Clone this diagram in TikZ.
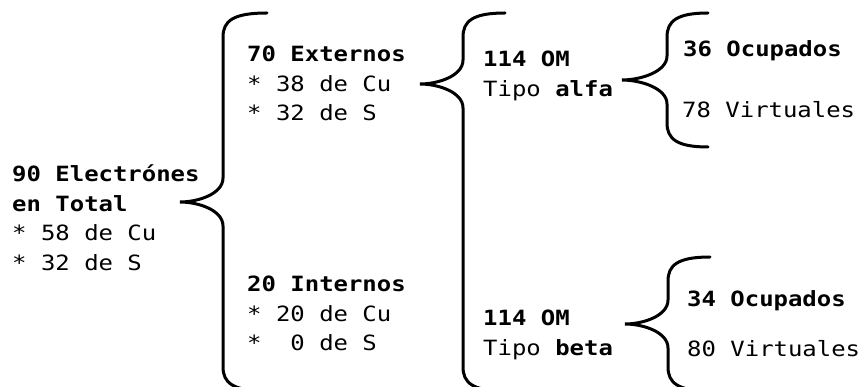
\documentclass[tikz,border=0pt]{standalone}
\usepackage{fontspec}
\setmonofont[FakeStretch=1.14]{DejaVu Sans Mono}

% llave: #1 end x, #2 stem x, #3 top y, #4 tip x, #5 tip y, #6 bottom y
\newcommand{\llave}[6]{%
    \draw[llave] (#1,#3) .. controls (#2+10,#3) and (#2,#3+8) .. (#2,#3+24)
        -- (#2,#5-24) .. controls (#2,#5-8) and (#4+18,#5) .. (#4,#5)
        .. controls (#4+18,#5) and (#2,#5+8) .. (#2,#5+24)
        -- (#2,#6-24) .. controls (#2,#6-8) and (#2+10,#6) .. (#1,#6);
}

\tikzset{
    % base of a block = baseline of its last line
    texto/.style={anchor=base west, inner sep=0pt, align=left,
        font=\ttfamily\fontsize{21}{29.5}\selectfont},
    llave/.style={line width=3pt, line cap=round},
}

\begin{document}
\begin{tikzpicture}[x=1pt, y=-1pt]

    % ==========================================
    % 1. PAGE (pixel units, y downwards)
    % ==========================================
    \useasboundingbox (0,0) rectangle (863,387);
    \clip (0,0) rectangle (863,387);

    % ==========================================
    % 2. TEXT BLOCKS
    % ==========================================
    \node[texto] (total) at (12,270.5)
        {\textbf{90 Electrónes}\\ \textbf{en Total}\\ * 58 de Cu\\ * 32 de S};

    \node[texto] (externos) at (247,121)
        {\textbf{70 Externos}\\ * 38 de Cu\\ * 32 de S};
    \node[texto] (internos) at (247,351)
        {\textbf{20 Internos}\\ * 20 de Cu\\ * \hphantom{2}0 de S};

    \node[texto] (alfa) at (483,96.5) {\textbf{114 OM}\\ Tipo \textbf{alfa}};
    \node[texto] (beta) at (483,355.5) {\textbf{114 OM}\\ Tipo \textbf{beta}};

    \node[texto] (ocupA) at (683,57) {\textbf{36 Ocupados}};
    \node[texto] (virtA) at (682,118) {78 Virtuales};
    \node[texto] (ocupB) at (687,307) {\textbf{34 Ocupados}};
    \node[texto] (virtB) at (687,357) {80 Virtuales};

    % ==========================================
    % 3. BRACES
    % ==========================================
    % Total -> Externos / Internos
    \llave{267}{223}{13}{180}{202}{391}
    % Externos -> alfa / beta
    \llave{505}{463}{13}{420}{84}{391}
    % alfa -> Ocupados / Virtuales
    \llave{708}{667}{13}{622}{80}{147}
    % beta -> Ocupados / Virtuales
    \llave{710}{668}{257}{625}{324}{391}

\end{tikzpicture}
\end{document}
